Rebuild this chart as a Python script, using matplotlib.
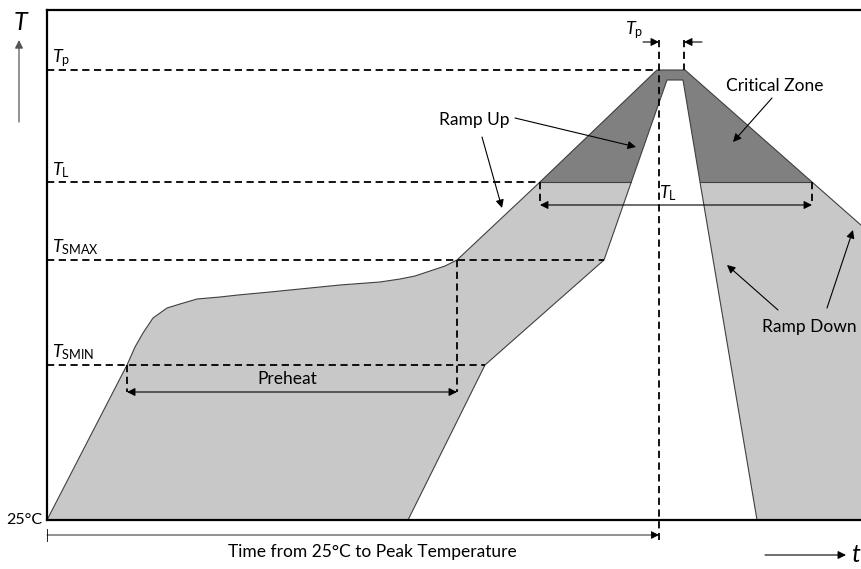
import matplotlib
matplotlib.use("Agg")
import matplotlib.pyplot as plt

plt.rcParams['font.family'] = ['Lato', 'DejaVu Sans']
plt.rcParams['mathtext.fontset'] = 'custom'
plt.rcParams['mathtext.rm'] = 'Lato'
plt.rcParams['mathtext.it'] = 'Lato:italic'

# ---- data (schematic coordinates: x = time units, y = temperature level units, pixel-like) ----
levels_y = {"Tp": 70, "TL": 182, "TSMAX": 260, "TSMIN": 365, "T25": 520}
level_labels = [r"$T_{\mathrm{p}}$", r"$T_{\mathrm{L}}$", r"$T_{\mathrm{SMAX}}$", r"$T_{\mathrm{SMIN}}$"]
level_label_y = [58, 170, 247, 352]

# upper (max) profile boundary
outer_x = [47, 127, 135, 143, 153, 167, 180, 197, 220, 238, 270, 300, 340, 380, 400, 415, 430, 445, 457, 540, 657, 685, 812, 862]
outer_y = [520, 365, 347, 333, 318, 308, 304, 299, 297, 295, 292, 289, 285, 282, 279, 276, 271, 266, 260, 182, 70, 70, 182, 226]
# lower (min) profile boundary
inner_x = [408, 485, 604, 667, 683, 700, 757]
inner_y = [520, 365, 260, 80, 80, 182, 520]
# critical zone (above TL)
crit_x = [540, 657, 685, 812]
crit_y = [182, 70, 70, 182]

x_left, x_right, y_top, y_bottom = 47, 862, 10, 520
x_peak, x_peak_end = 659, 684
x_tsmin, x_tsmax, x_tl0, x_tl1 = 127, 457, 540, 812
x_tsmin_end, x_tsmax_end = 485, 604

LIGHT = "#c8c8c8"
DARK = "#808080"
EDGE = "#404040"

fig = plt.figure(figsize=(8.62, 5.69), dpi=100)
ax = fig.add_axes([0, 0, 1, 1])
ax.set_xlim(0, 862)
ax.set_ylim(569, 0)
ax.axis("off")

# filled regions
ax.fill(outer_x + [862, 47], outer_y + [520, 520], color=LIGHT, lw=0, zorder=1)
ax.fill(crit_x, crit_y, color=DARK, lw=0, zorder=2)
ax.fill(inner_x, inner_y, color="white", lw=0, zorder=3)
ax.plot(outer_x, outer_y, color=EDGE, lw=0.8, zorder=4)
ax.plot(inner_x, inner_y, color=EDGE, lw=0.8, zorder=4)
ax.plot([x_tl0, 631], [182, 182], color=EDGE, lw=0.8, zorder=4)
ax.plot([700, x_tl1], [182, 182], color=EDGE, lw=0.8, zorder=4)

# frame
ax.plot([x_left, x_right], [y_top, y_top], color="black", lw=1.6, zorder=6)
ax.plot([x_left, x_left], [y_top, y_bottom], color="black", lw=1.6, zorder=6)
ax.plot([x_left, x_right], [y_bottom, y_bottom], color="black", lw=1.6, zorder=6)

dash = dict(color="black", lw=1.3, linestyle=(0, (4, 2.5)), zorder=5)
# horizontal level lines
ax.plot([x_left, 657], [levels_y["Tp"]] * 2, **dash)
ax.plot([x_left, x_tl0], [levels_y["TL"]] * 2, **dash)
ax.plot([x_left, x_tsmax_end], [levels_y["TSMAX"]] * 2, **dash)
ax.plot([x_left, x_tsmin_end], [levels_y["TSMIN"]] * 2, **dash)
# vertical lines
ax.plot([x_peak, x_peak], [40, 540], **dash)
ax.plot([x_peak_end, x_peak_end], [40, 70], **dash)
ax.plot([x_tl0, x_tl0], [182, 205], **dash)
ax.plot([x_tl1, x_tl1], [182, 205], **dash)
ax.plot([x_tsmin, x_tsmin], [365, 392], **dash)
ax.plot([x_tsmax, x_tsmax], [260, 392], **dash)

arr = dict(arrowstyle="-|>", color="black", lw=0.8, mutation_scale=12, shrinkA=0, shrinkB=0)
darr = dict(arrowstyle="<|-|>", color="black", lw=0.8, mutation_scale=12, shrinkA=0, shrinkB=0)

FS = 12.5

# preheat and TL duration arrows
ax.annotate("", xy=(x_tsmax, 392), xytext=(x_tsmin, 392), arrowprops=darr, zorder=6)
ax.annotate("", xy=(x_tl1, 205), xytext=(x_tl0, 205), arrowprops=darr, zorder=6)
ax.text(287, 379, "Preheat", ha="center", va="center", fontsize=FS, zorder=7)
ax.text(668, 193, r"$T_{\mathrm{L}}$", ha="center", va="center", fontsize=13, zorder=7)

# Tp duration arrows
ax.annotate("", xy=(x_peak, 42), xytext=(643, 42), arrowprops=arr, zorder=6)
ax.annotate("", xy=(x_peak_end, 42), xytext=(702, 42), arrowprops=arr, zorder=6)
ax.text(634, 30, r"$T_{\mathrm{p}}$", ha="center", va="center", fontsize=13, zorder=7)

# level labels
for lab, ly in zip(level_labels, level_label_y):
    ax.text(52, ly, lab, ha="left", va="center", fontsize=13, zorder=7)
ax.text(42, 520, "25°C", ha="right", va="center", fontsize=11.5, zorder=7)

# time from 25C arrow
ax.annotate("", xy=(x_peak, 535), xytext=(x_left, 535), arrowprops=dict(arrowstyle="-|>", color="black", lw=0.6, mutation_scale=12, shrinkA=0, shrinkB=0), zorder=6)
ax.plot([x_left, x_left], [529, 541], color="black", lw=0.6)
ax.text(372, 552, "Time from 25°C to Peak Temperature", ha="center", va="center", fontsize=12.5)

# axis arrows
ax.annotate("", xy=(846, 555), xytext=(765, 555), arrowprops=dict(arrowstyle="-|>", color="black", lw=0.8, mutation_scale=12, shrinkA=0, shrinkB=0))
ax.text(851, 555, "t", ha="left", va="center", fontsize=18, style="italic")
ax.annotate("", xy=(19, 40), xytext=(19, 122), arrowprops=dict(arrowstyle="-|>", color="#555555", lw=0.9, mutation_scale=12, shrinkA=0, shrinkB=0))
ax.text(20, 22, "T", ha="center", va="center", fontsize=18, style="italic")

# callouts
ax.text(474, 120, "Ramp Up", ha="center", va="center", fontsize=FS, zorder=7)
ax.annotate("", xy=(636, 147), xytext=(515, 118), arrowprops=arr, zorder=7)
ax.annotate("", xy=(502, 208), xytext=(482, 137), arrowprops=arr, zorder=7)

ax.text(775, 86, "Critical Zone", ha="center", va="center", fontsize=FS, zorder=7)
ax.annotate("", xy=(733, 142), xytext=(772, 98), arrowprops=arr, zorder=7)

ax.text(809, 327, "Ramp Down", ha="center", va="center", fontsize=FS, zorder=7)
ax.annotate("", xy=(727, 265), xytext=(778, 310), arrowprops=arr, zorder=7)
ax.annotate("", xy=(853, 230), xytext=(827, 308), arrowprops=arr, zorder=7)

fig.savefig("out.png", dpi=100)
